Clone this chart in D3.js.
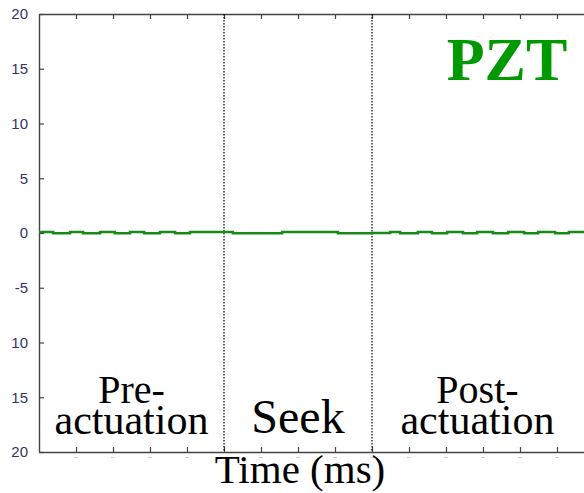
<!DOCTYPE html>
<html lang="en">
  <head>
    <meta charset="UTF-8" />
    <title>PZT</title>
    <script src="https://cdn.jsdelivr.net/npm/d3@7"></script>
    <style>
      body { margin: 0; background: #fff; }
    </style>
  </head>
  <body>
    <svg width="584" height="493"></svg>
  </body>

  <script>
    // data
    var stepTimes = [0, 0.38, 0.84, 1.19, 1.65, 2.05, 2.46, 2.84, 3.27, 3.68, 4.08, 5.24, 6.57, 8.08, 9.0,
      9.49, 9.76, 10.24, 10.62, 11.03, 11.46, 11.84, 12.27, 12.68, 13.11, 13.49, 13.95, 14.32, 14.73];
    var stepValues = [0.1, -0.02, 0.1, -0.02, 0.1, -0.02, 0.1, -0.02, 0.1, -0.02, 0.1, -0.03, 0.08, -0.03, 0.0,
      0.1, -0.02, 0.1, -0.02, 0.1, -0.02, 0.1, -0.02, 0.1, -0.02, 0.1, -0.02, 0.1, 0.1];
    var yTicks = [20, 15, 10, 5, 0, -5, -10, -15, -20];
    var yTickLabels = ['20', '15', '10', '5', '0', '-5', '10', '15', '20']; // minus signs are clipped in the original
    var xTicks = d3.range(1, 15);
    var phaseBounds = [5, 9];
    var phaseLabels = [
      { lines: ['Pre-', 'actuation'], at: 2.5 },
      { lines: ['Seek'], at: 7 },
      { lines: ['Post-', 'actuation'], at: 11.85 }
    ];

    var svg = d3.select('svg');
    var pLeft = 39, pRight = 584, pTop = 14, pBottom = 452;

    var x = d3.scaleLinear().domain([0, 14.73]).range([pLeft, pRight]);
    var y = d3.scaleLinear().domain([-20, 20]).range([pBottom, pTop]);

    var axisColor = '#444';

    // x ticks (inward) on bottom and top
    var axB = d3.axisBottom(x).tickValues(xTicks).tickSizeInner(-5).tickSizeOuter(0).tickFormat('');
    var axT = d3.axisTop(x).tickValues(xTicks).tickSizeInner(-5).tickSizeOuter(0).tickFormat('');
    var gB = svg.append('g').attr('transform', 'translate(0,' + pBottom + ')').call(axB);
    var gT = svg.append('g').attr('transform', 'translate(0,' + pTop + ')').call(axT);

    // y axis with inward ticks
    var axL = d3.axisLeft(y).tickValues(yTicks).tickSizeInner(-5).tickSizeOuter(0)
      .tickPadding(11)
      .tickFormat(function (d, i) { return yTickLabels[i]; });
    var gL = svg.append('g').attr('transform', 'translate(' + pLeft + ',0)').call(axL);

    [gB, gT, gL].forEach(function (g) {
      g.select('.domain').attr('stroke', axisColor).attr('stroke-width', 1.4);
      g.selectAll('.tick line').attr('stroke', axisColor).attr('stroke-width', 1.2);
    });
    gL.selectAll('.tick text')
      .attr('font-family', "'Liberation Sans', Arial, sans-serif")
      .attr('font-size', 15)
      .attr('fill', '#33336a');

    // faint clipped tick label remnants below the bottom axis
    svg.append('g').selectAll('line').data(xTicks).enter().append('line')
      .attr('x1', function (d) { return x(d) - 2; })
      .attr('x2', function (d) { return x(d) + 2; })
      .attr('y1', pBottom + 5.5)
      .attr('y2', pBottom + 5.5)
      .attr('stroke', '#ccc')
      .attr('stroke-width', 1);

    // phase boundaries
    svg.append('g').selectAll('line').data(phaseBounds).enter().append('line')
      .attr('x1', function (d) { return x(d); })
      .attr('x2', function (d) { return x(d); })
      .attr('y1', pTop)
      .attr('y2', pBottom)
      .attr('stroke', '#000')
      .attr('stroke-width', 1.2)
      .attr('stroke-dasharray', '1.5,1.5');

    // the signal
    var pts = stepTimes.map(function (t, i) { return [t, stepValues[i]]; });
    var line = d3.line()
      .x(function (d) { return x(d[0]); })
      .y(function (d) { return y(d[1]); })
      .curve(d3.curveStepAfter);
    svg.append('path')
      .datum(pts)
      .attr('d', line)
      .attr('fill', 'none')
      .attr('stroke', '#178a17')
      .attr('stroke-width', 2.5);

    // phase labels
    var serif = "'Liberation Serif', 'Times New Roman', serif";
    phaseLabels.forEach(function (p) {
      if (p.lines.length === 1) {
        svg.append('text')
          .attr('x', x(p.at))
          .attr('y', 433)
          .attr('text-anchor', 'middle')
          .attr('font-family', serif)
          .attr('font-size', 48)
          .text(p.lines[0]);
      } else {
        svg.append('text')
          .attr('x', x(p.at))
          .attr('y', 403)
          .attr('text-anchor', 'middle')
          .attr('font-family', serif)
          .attr('font-size', 40)
          .text(p.lines[0]);
        svg.append('text')
          .attr('x', x(p.at))
          .attr('y', 434)
          .attr('text-anchor', 'middle')
          .attr('font-family', serif)
          .attr('font-size', 42)
          .text(p.lines[1]);
      }
    });

    // x axis title
    svg.append('text')
      .attr('x', 300)
      .attr('y', 483)
      .attr('text-anchor', 'middle')
      .attr('font-family', serif)
      .attr('font-size', 41)
      .text('Time (ms)');

    // PZT tag
    svg.append('text')
      .attr('x', 507)
      .attr('y', 80)
      .attr('text-anchor', 'middle')
      .attr('font-family', serif)
      .attr('font-weight', 'bold')
      .attr('font-size', 62)
      .attr('fill', '#009a00')
      .text('PZT');
  </script>
</html>
